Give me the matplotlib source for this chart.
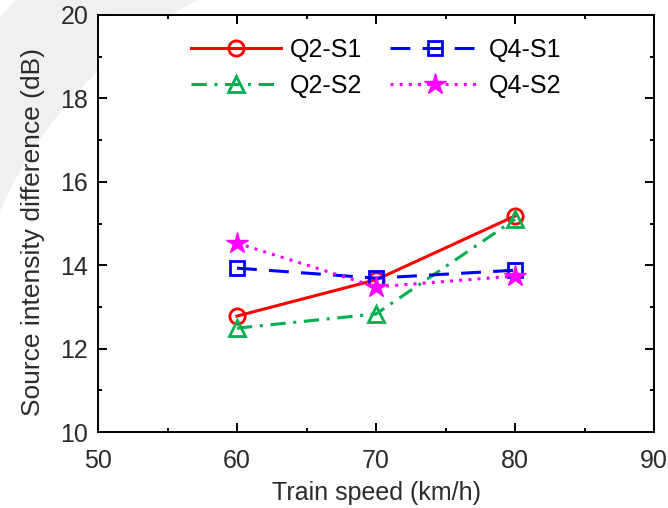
import matplotlib
matplotlib.use('Agg')
import matplotlib.pyplot as plt
from matplotlib.patches import Wedge
from matplotlib.ticker import MultipleLocator

plt.rcParams['font.family'] = ['Liberation Sans', 'DejaVu Sans']

speed = [60, 70, 80]
q2_s1 = [12.78, 13.65, 15.18]
q4_s1 = [13.93, 13.69, 13.88]
q2_s2 = [12.49, 12.83, 15.10]
q4_s2 = [14.53, 13.48, 13.74]

W, H = 668, 508
fig = plt.figure(figsize=(W / 100, H / 100), dpi=100)

# faint grey arc in the background (top-left corner), hidden behind the axes
ring = Wedge((396 / 100, (H - 384) / 100), 540 / 100, 95, 200, width=108 / 100,
             transform=fig.dpi_scale_trans, facecolor='#f0f0f0', edgecolor='none', zorder=-5)
fig.patches.append(ring)

ax = fig.add_axes([98 / W, 1 - 432 / H, (654 - 98) / W, (432 - 15) / H])
ax.set_zorder(2)
ax.set_facecolor('white')

ax.plot(speed, q2_s1, color='red', lw=2.2, marker='o', ms=11, mfc='none', mew=2, label='Q2-S1')
ax.plot(speed, q2_s2, color='#00b050', lw=2.2, ls=(0, (5, 2.5, 1, 2.5)), marker='^', ms=12, mfc='none', mew=2, label='Q2-S2')
ax.plot(speed, q4_s1, color='blue', lw=2.2, ls=(0, (6.5, 4)), marker='s', ms=10, mfc='none', mew=2, label='Q4-S1')
ax.plot(speed, q4_s2, color='magenta', lw=2.2, ls=(0, (1, 2)), marker='*', ms=16, label='Q4-S2')

ax.set_xlim(50, 90)
ax.set_ylim(10, 20)
ax.xaxis.set_major_locator(MultipleLocator(10))
ax.xaxis.set_minor_locator(MultipleLocator(5))
ax.yaxis.set_major_locator(MultipleLocator(2))
ax.yaxis.set_minor_locator(MultipleLocator(1))
ax.tick_params(which='both', direction='in', top=True, right=True, labelsize=18,
               width=1.4, labelcolor='#2b2b2b')
ax.tick_params(which='major', length=6.5)
ax.tick_params(which='minor', length=3.2)
ax.tick_params(axis='x', pad=12)
ax.tick_params(axis='y', pad=7)
for s in ax.spines.values():
    s.set_linewidth(1.4)

ax.set_xlabel('Train speed (km/h)', fontsize=18, color='#2b2b2b', labelpad=6)
ax.set_ylabel('Source intensity difference (dB)', fontsize=19, color='#2b2b2b')
ax.yaxis.set_label_coords(-0.095, 0.48)

ax.legend(ncol=2, loc='upper center', frameon=False, fontsize=18,
          handlelength=3.6, columnspacing=1.1, handletextpad=0.35, labelspacing=0.5,
          bbox_to_anchor=(0.5, 1.0))

fig.savefig('out.png', dpi=100)
